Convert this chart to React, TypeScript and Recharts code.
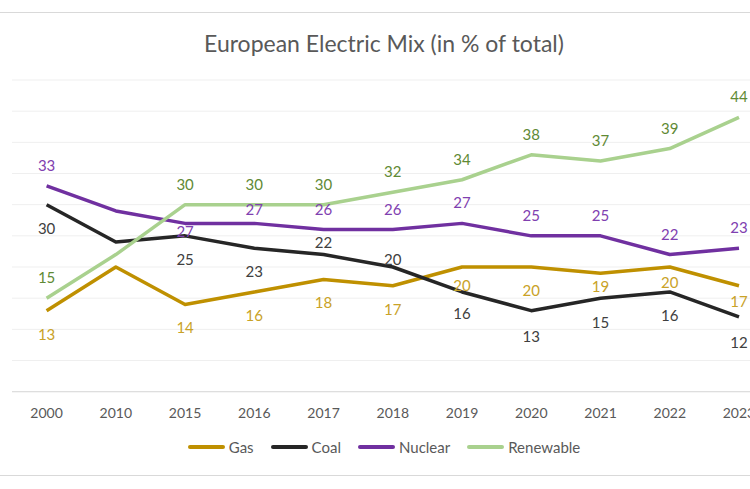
import React from "react"
import { LineChart, Line, XAxis, YAxis, CartesianGrid, Legend, LabelList } from "recharts"

// values (2010 has no labels, estimated from line position)
const years = ["2000", "2010", "2015", "2016", "2017", "2018", "2019", "2020", "2021", "2022", "2023"]
const gas = [13, 20, 14, 16, 18, 17, 20, 20, 19, 20, 17]
const coal = [30, 24, 25, 23, 22, 20, 16, 13, 15, 16, 12]
const nuclear = [33, 29, 27, 27, 26, 26, 27, 25, 25, 22, 23]
const renewable = [15, 22, 30, 30, 30, 32, 34, 38, 37, 39, 44]
const yTicks = [0, 5, 10, 15, 20, 25, 30, 35, 40, 45, 50]

const data = years.map((year, i) => ({
    year,
    Gas: gas[i],
    Coal: coal[i],
    Nuclear: nuclear[i],
    Renewable: renewable[i],
}))

// label vertical offsets from the point (px), null = no label
const A = -21
const B = 23
const labelDy: Record<string, (number | null)[]> = {
    Gas: [B, null, B, B, B, B, 18, B, 13, 15, 15],
    Coal: [B, null, B, B, -13, -8, 21, 25, 24, B, 25],
    Nuclear: [A, null, 8, -14, A, A, A, A, A, A, A],
    Renewable: [A, null, A, A, A, A, A, A, A, A, A],
}

const series = [
    { key: "Gas", color: "#BF9000", label: "#C9A227" },
    { key: "Coal", color: "#262626", label: "#404040" },
    { key: "Nuclear", color: "#7030A0", label: "#8040B0" },
    { key: "Renewable", color: "#A9D18E", label: "#5F8A35" },
]

const FONT = "Lato, 'Open Sans', sans-serif"

function makeLabel(key: string, color: string) {
    return (props: any) => {
        const idx = props.index
        const dy = labelDy[key][idx]
        if (dy == null) return null
        const x = props.x ?? props.viewBox?.x
        const y = props.y ?? props.viewBox?.y
        return (
            <text
                x={x}
                y={y + dy}
                textAnchor="middle"
                dominantBaseline="central"
                fill={color}
                fontSize={15}
                fontFamily={FONT}
            >
                {props.value}
            </text>
        )
    }
}

function LegendContent() {
    return (
        <div style={{ display: "flex", justifyContent: "center", alignItems: "center", gap: 17, fontFamily: FONT, fontSize: 15, color: "#595959" }}>
            {series.map((s) => (
                <div key={s.key} style={{ display: "flex", alignItems: "center" }}>
                    <span style={{ display: "inline-block", width: 37, height: 4, borderRadius: 2, background: s.color, marginRight: 4 }} />
                    <span>{s.key}</span>
                </div>
            ))}
        </div>
    )
}

export default function App() {
    return (
        <div style={{ position: "relative", width: 750, height: 489, overflow: "hidden", background: "#fff", fontFamily: FONT }}>
            <style>{`body{margin:0}`}</style>
            <div style={{ position: "absolute", left: 0, right: 0, top: 12, height: 1, background: "#d9d9d9" }} />
            <div style={{ position: "absolute", left: 0, right: 0, top: 475, height: 1, background: "#d9d9d9" }} />
            <div style={{ position: "absolute", left: 0, width: 768, top: 29, textAlign: "center", fontSize: 23, color: "#595959" }}>
                European Electric Mix (in % of total)
            </div>
            <div style={{ position: "absolute", left: 0, top: 0 }}>
                <LineChart width={790} height={489} data={data} margin={{ top: 80, right: 16.4, left: 12, bottom: 67.3 }}>
                    <CartesianGrid vertical={false} stroke="#efefef" />
                    <XAxis
                        dataKey="year"
                        padding={{ left: 34.6, right: 34.6 }}
                        axisLine={{ stroke: "#d9d9d9" }}
                        tickLine={false}
                        tick={{ fill: "#595959", fontSize: 14, fontFamily: FONT }}
                        tickMargin={10}
                        interval={0}
                        height={30}
                    />
                    <YAxis hide domain={[0, 50]} ticks={yTicks} />
                    <Legend
                        verticalAlign="middle"
                        content={<LegendContent />}
                        wrapperStyle={{ top: 438, left: 0, width: 768 }}
                    />
                    {series.map((s) => (
                        <Line
                            key={s.key}
                            dataKey={s.key}
                            stroke={s.color}
                            strokeWidth={3.5}
                            strokeLinejoin="round"
                            dot={false}
                            activeDot={false}
                            isAnimationActive={false}
                        >
                            <LabelList dataKey={s.key} content={makeLabel(s.key, s.label)} />
                        </Line>
                    ))}
                </LineChart>
            </div>
        </div>
    )
}
